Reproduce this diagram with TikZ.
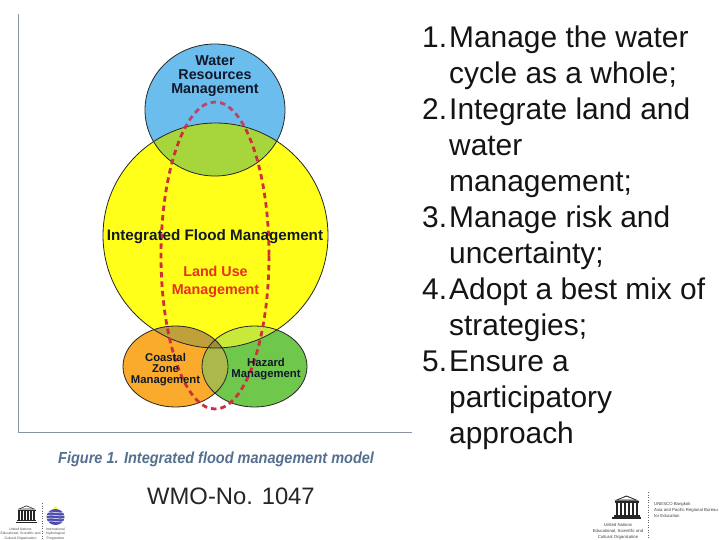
\documentclass[tikz,border=0pt]{standalone}
\usepackage{fontspec}
\setmainfont{Liberation Sans}
\definecolor{cblue}{HTML}{6BBDEE}
\definecolor{cyellow}{HTML}{FFFF1A}
\definecolor{corange}{HTML}{FBAB2B}
\definecolor{cgreen}{HTML}{6FC74B}
\definecolor{cby}{HTML}{A6D63C}
\definecolor{coy}{HTML}{BFA03A}
\definecolor{cgy}{HTML}{C9E83C}
\definecolor{cog}{HTML}{ABB84A}
\definecolor{coyg}{HTML}{A08C3A}
\definecolor{cdash}{HTML}{CE2F3C}
\definecolor{cdashb}{HTML}{B6476A}
\definecolor{ccap}{HTML}{55708F}
\definecolor{caxis}{HTML}{8A94A0}
\definecolor{clabel}{HTML}{10182A}
\definecolor{cland}{HTML}{E8301C}
\tikzset{
  listitem/.style={anchor=base west,inner sep=0pt,font=\fontsize{29.9}{29.9}\selectfont,text=black!92},
  venn/.style={align=center,inner sep=0pt,font=\bfseries\fontsize{14.3}{14}\selectfont,text=clabel},
  outline/.style={draw=black!85,line width=0.8pt},
  reddash/.style={line width=2.8pt,dash pattern=on 5.5pt off 4pt},
  tinyl/.style={inner sep=0pt,font=\fontsize{3.4}{4.2}\selectfont,text=black!70,align=center},
  tinyr/.style={inner sep=0pt,font=\fontsize{4.3}{6}\selectfont,text=black!75,align=center}
}
\newcommand{\shapeblue}{(215,110) ellipse [x radius=70,y radius=66]}
\newcommand{\shapeyellow}{(215.5,235.5) ellipse [x radius=112.5,y radius=112.5]}
\newcommand{\shapeorange}{(175.5,366.5) ellipse [x radius=52.5,y radius=40.5]}
\newcommand{\shapegreen}{(254.5,366.5) ellipse [x radius=52.5,y radius=40.5]}
\newcommand{\templeicon}[3]{% x, y, scale
  \begin{scope}[shift={(#1,#2)},scale=#3]
    \fill[black!85] (-12,-9) -- (0,-14) -- (12,-9) -- cycle;
    \fill[white] (-8,-9.8) -- (0,-12.8) -- (8,-9.8) -- cycle;
    \fill[black!85] (-12,-8.5) rectangle (12,-7);
    \foreach \k in {-10,-6,-2,2,6,10}{\fill[black!85] (\k-1,-6.5) rectangle (\k+1,5);}
    \fill[black!85] (-13,5.5) rectangle (13,7);
    \fill[black!85] (-14.5,7.5) rectangle (14.5,9);
  \end{scope}}
\begin{document}
\begin{tikzpicture}[x=1pt,y=-1pt]
\useasboundingbox (0,0) rectangle (720,540);
\fill[white] (0,0) rectangle (720,540);
% axis lines
\coordinate (axtop) at (18,14);
\coordinate (axcorner) at (18,432);
\coordinate (axend) at (412,432);
\draw[caxis,line width=1pt] (axtop) -- (axcorner) -- (axend);
% venn fills
\fill[cblue] \shapeblue;
\fill[cyellow] \shapeyellow;
\fill[corange] \shapeorange;
\fill[cgreen] \shapegreen;
\begin{scope}\clip \shapeblue; \fill[cby] \shapeyellow; \end{scope}
\begin{scope}\clip \shapeorange; \fill[coy] \shapeyellow; \end{scope}
\begin{scope}\clip \shapegreen; \fill[cgy] \shapeyellow; \end{scope}
\begin{scope}\clip \shapeorange; \fill[cog] \shapegreen; \end{scope}
\begin{scope}\clip \shapeorange; \clip \shapegreen; \fill[coyg] \shapeyellow; \end{scope}
\draw[outline] \shapeblue;
\draw[outline] \shapeyellow;
\draw[outline] \shapeorange;
\draw[outline] \shapegreen;
% red dashed land-use ellipse
\begin{scope}
  \clip (100,90) rectangle (330,127);
  \draw[cdashb,reddash] (215,255.5) ellipse [x radius=54,y radius=153.5];
\end{scope}
\begin{scope}
  \clip (100,127) rectangle (330,420);
  \draw[cdash,reddash] (215,255.5) ellipse [x radius=54,y radius=153.5];
\end{scope}
% venn labels
\node[venn] (water) at (215,76.5) {Water\\Resources\\Management};
\node[venn,font=\bfseries\fontsize{15.2}{15}\selectfont] (ifm) at (215,237) {Integrated Flood Management};
\node[venn,text=cland,font=\bfseries\fontsize{14.3}{18}\selectfont] (land) at (215.5,281.5) {Land Use\\Management};
\node[venn,font=\bfseries\fontsize{11.3}{11.3}\selectfont] (coastal) at (165.5,369.5) {Coastal\\Zone\\Management};
\node[venn,font=\bfseries\fontsize{11.3}{10.5}\selectfont] (hazard) at (266,369) {Hazard\\Management};
% caption
\node[anchor=base west,inner sep=0pt,text=ccap,font=\bfseries\itshape\fontsize{16}{16}\selectfont,xscale=0.907] (cap) at (58,463) {Figure 1. Integrated flood management model};
% list
\node[listitem] (n1) at (422,47.5) {1.};
\node[listitem] (t1a) at (449,47.5) {Manage the water};
\node[listitem] (t1b) at (449,83.5) {cycle as a whole;};
\node[listitem] (n2) at (422,119.5) {2.};
\node[listitem] (t2a) at (449,119.5) {Integrate land and};
\node[listitem] (t2b) at (449,155.5) {water};
\node[listitem] (t2c) at (449,191.5) {management;};
\node[listitem] (n3) at (422,227.5) {3.};
\node[listitem] (t3a) at (449,227.5) {Manage risk and};
\node[listitem] (t3b) at (449,263.5) {uncertainty;};
\node[listitem] (n4) at (422,299.5) {4.};
\node[listitem] (t4a) at (449,299.5) {Adopt a best mix of};
\node[listitem] (t4b) at (449,335.5) {strategies;};
\node[listitem] (n5) at (422,371.5) {5.};
\node[listitem] (t5a) at (449,371.5) {Ensure a};
\node[listitem] (t5b) at (449,407.5) {participatory};
\node[listitem] (t5c) at (449,443.5) {approach};
% document number
\node[anchor=base west,inner sep=0pt,font=\fontsize{23.8}{24}\selectfont,text=black!85] (wmo) at (147,504) {WMO-No. 1047};
% left logos
\templeicon{26.5}{516}{0.75}
\node[tinyl] (ll) at (20.5,534) {United Nations\\Educational, Scientific and\\Cultural Organization};
\draw[black!60,line width=0.4pt,dash pattern=on 1pt off 1.5pt] (42,503) -- (42,540);
\begin{scope}
  \fill[yellow!70!white] (55.5,508.5) circle (2.2);
  \fill[blue!55!black!70] (55.5,517) ellipse [x radius=9,y radius=8];
  \foreach \yy in {512.5,515.5,518.5,521.5}{\draw[white,line width=0.5pt] (47,\yy) .. controls (52,\yy-1.5) and (60,\yy+1.5) .. (64,\yy);}
\end{scope}
\node[tinyl] (lr) at (55.5,534) {International\\Hydrological\\Programme};
% right logo
\templeicon{626.5}{509.5}{1.0}
\node[tinyr] (rl) at (618,531) {United Nations\\Educational, Scientific and\\Cultural Organization};
\draw[black!60,line width=0.4pt,dash pattern=on 1pt off 1.5pt] (648.5,492) -- (648.5,540);
\node[tinyr,anchor=west,align=left] (rr) at (654,510) {UNESCO Bangkok\\Asia and Pacific Regional Bureau\\for Education};
\end{tikzpicture}
\end{document}
